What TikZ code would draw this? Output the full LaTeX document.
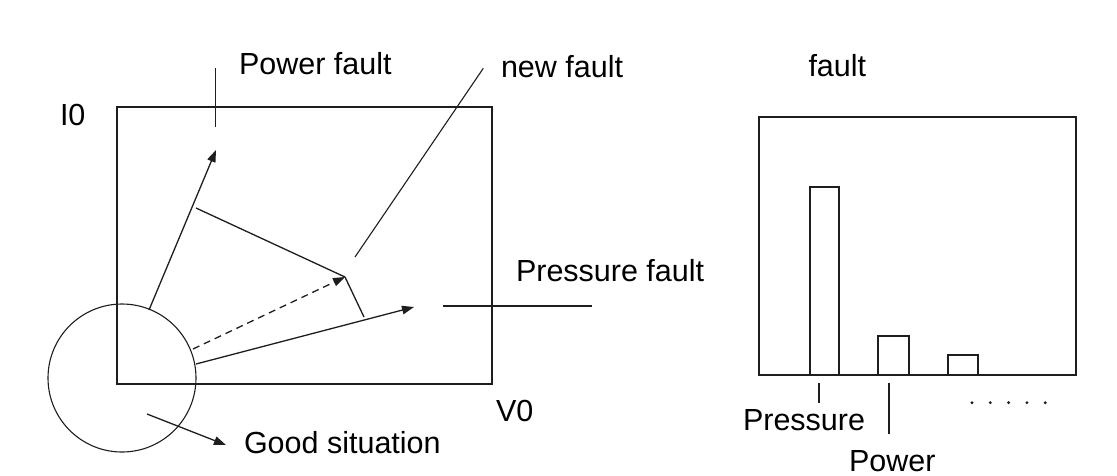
\documentclass[tikz,border=0pt]{standalone}
\usepackage{fontspec}
\setmainfont{Liberation Sans}
\usetikzlibrary{arrows.meta}
\definecolor{ink}{RGB}{30,30,30}
\tikzset{
  lbl/.style={anchor=base west, inner sep=0pt, outer sep=0pt, font=\fontsize{30.5}{34}\selectfont, text=black},
  ln/.style={draw=ink, line width=1.3pt},
  arr/.style={ln, -{Triangle[length=12pt,width=8.5pt]}},
  bar/.style={draw=ink, line width=1.3pt, fill=white},
}
\begin{document}
\begin{tikzpicture}[x=1pt,y=-1pt]
\useasboundingbox (0,0) rectangle (1117,475);
\fill[white] (0,0) rectangle (1117,475);

% left plot frame
\draw[ln] (117,107) rectangle (492,384);
% good-situation circle
\draw[draw=ink, line width=1.1pt] (122,378) circle (74);

% coordinates
\coordinate (pwS) at (149,310);
\coordinate (pwE) at (216,150);
\coordinate (prS) at (196,364);
\coordinate (prE) at (414,307);
\coordinate (dsS) at (193,349);
\coordinate (dsE) at (345,277);
\coordinate (pp1) at (196,208);
\coordinate (pp2) at (364,317);
\coordinate (nfA) at (483.3,68.3);
\coordinate (nfB) at (355,257);
\coordinate (pfA) at (215.7,67.7);
\coordinate (pfB) at (215.7,127);
\coordinate (psA) at (443,306);
\coordinate (psB) at (592,306);
\coordinate (gsS) at (147,414);
\coordinate (gsE) at (226,445);

% vectors
\draw[arr] (pwS) -- (pwE);
\draw[arr] (prS) -- (prE);
\draw[arr, dash pattern=on 7pt off 5pt] (dsS) -- (dsE);
\draw[ln] (pp1) -- (dsE) -- (pp2);
\draw[ln, line width=1.1pt] (nfA) -- (nfB);
\draw[ln] (pfA) -- (pfB);
\draw[ln] (psA) -- (psB);
\draw[arr] (gsS) -- (gsE);

% labels
\node[lbl] (tI0) at (60,125) {I0};
\node[lbl] (tV0) at (496,421.7) {V0};
\node[lbl] (tPw) at (239,74.3) {Power fault};
\node[lbl] (tNf) at (501,77.3) {new fault};
\node[lbl] (tPs) at (516,281.7) {Pressure fault};
\node[lbl] (tGs) at (244,453) {Good situation};

% right bar chart
\draw[ln] (759,117) rectangle (1076,375);
\draw[bar] (810,375) rectangle (839,187);
\draw[bar] (878,375) rectangle (909,336);
\draw[bar] (948,375) rectangle (978,355);
\draw[ln] (759,375) -- (1076,375);

\coordinate (tk1a) at (819,383);
\coordinate (tk1b) at (819,403);
\coordinate (tk2a) at (889,383);
\coordinate (tk2b) at (889,434);
\draw[ln] (tk1a) -- (tk1b);
\draw[ln] (tk2a) -- (tk2b);

\foreach \i in {0,...,4}
  \fill[ink] (972+18.3*\i,402.7) circle (1.6);

\node[lbl] (tFa) at (808.5,76.7) {fault};
\node[lbl] (tPr) at (743,430) {Pressure};
\node[lbl, text depth=0pt] (tPo) at (849,471) {Power};
\end{tikzpicture}
\end{document}
